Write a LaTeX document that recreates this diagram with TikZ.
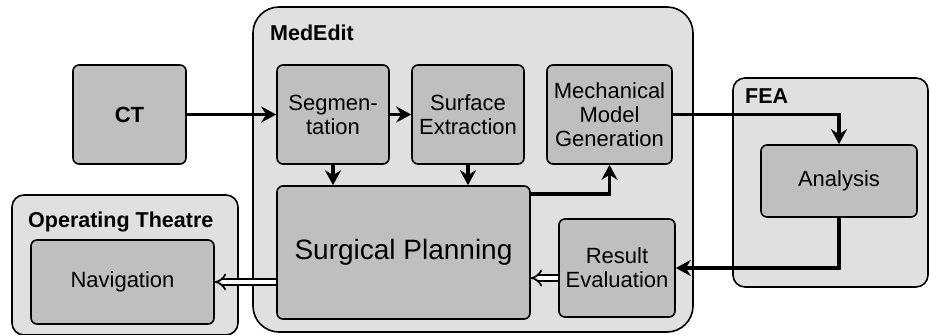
\documentclass[tikz,border=0pt]{standalone}
\usepackage{fontspec}
\setmainfont{Liberation Sans}
\usetikzlibrary{arrows.meta}
\definecolor{panelgray}{gray}{0.88}
\definecolor{boxgray}{gray}{0.75}

\begin{document}
\begin{tikzpicture}[x=1pt,y=-1pt,
    panel/.style={draw, fill=panelgray, line width=1.6pt, rounded corners=12pt, inner sep=0pt},
    block/.style={draw, fill=boxgray, line width=1.6pt, rounded corners=6pt, inner sep=0pt,
                  align=center, font=\fontsize{22}{24}\selectfont},
    title/.style={anchor=west, inner sep=0pt, font=\bfseries\fontsize{21.5}{24}\selectfont},
    flow/.style={line width=3.5pt, -{Stealth[length=15pt,width=16pt,inset=5pt]}},
    hollow/.style={double, double distance=4pt, line width=1.7pt, -{Implies}},
  ]
  \useasboundingbox (0,0) rectangle (930,335);

  % containers
  \node[panel, rounded corners=26pt, minimum width=440pt, minimum height=325pt] (mededit) at (473,169.5) {};
  \node[panel, minimum width=195pt, minimum height=209pt] (fea) at (830.5,182.5) {};
  \node[panel, minimum width=226pt, minimum height=140pt] (theatre) at (125,265) {};
  \node[title] (mededitlbl) at (270,33) {MedEdit};
  \node[title] (fealbl) at (745,96) {FEA};
  \node[title] (theatrelbl) at (28,222) {Operating Theatre};

  % blocks
  \node[block, minimum width=113pt, minimum height=99pt, font=\bfseries\fontsize{22}{24}\selectfont] (ct) at (129.5,114.5) {CT};
  \node[block, minimum width=112pt, minimum height=99pt] (seg) at (333,114.5) {Segmen-\\tation};
  \node[block, minimum width=112pt, minimum height=99pt] (surf) at (468,114.5) {Surface\\Extraction};
  \node[block, minimum width=125pt, minimum height=99pt] (mech) at (609.5,114.5) {Mechanical\\Model\\Generation};
  \node[block, minimum width=253pt, minimum height=133pt, font=\fontsize{28}{30}\selectfont] (plan) at (403.5,252.5) {Surgical Planning};
  \node[block, minimum width=116pt, minimum height=98pt] (result) at (617,268) {Result\\Evaluation};
  \node[block, minimum width=156pt, minimum height=72pt] (analysis) at (839,181) {Analysis};
  \node[block, minimum width=183pt, minimum height=84pt] (nav) at (122.5,282) {Navigation};

  % connectors
  \draw[flow] (ct) -- (seg);
  \draw[flow] (seg) -- (surf);
  \draw[flow] (seg.south) -- (seg.south |- plan.north);
  \draw[flow] (surf.south) -- (surf.south |- plan.north);
  \coordinate (planout) at ([yshift=-9pt]plan.north east);
  \draw[flow] (planout) -| (mech.south);
  \draw[flow] (mech.east) -| (analysis.north);
  \draw[flow] (analysis.south) |- (result.east);
  \coordinate (resout) at ([yshift=-10pt]result.west);
  \draw[hollow] (resout) -- (resout -| plan.east);
  \draw[hollow] (plan.west |- nav.east) -- (nav.east);
\end{tikzpicture}
\end{document}
